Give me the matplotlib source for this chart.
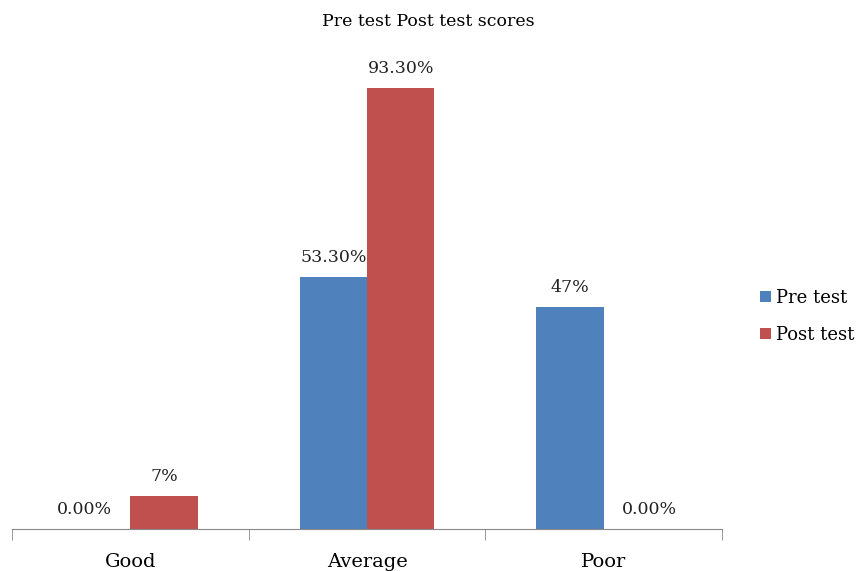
import numpy as np
import matplotlib.pyplot as plt

categorias = ['Good', 'Average', 'Poor']
pre_test = [0.0, 53.3, 47.0]
post_test = [7.0, 93.3, 0.0]
rotulos_pre = ['0.00%', '53.30%', '47%']
rotulos_post = ['7%', '93.30%', '0.00%']

plt.rcParams['font.family'] = ['DejaVu Serif']

fig = plt.figure(figsize=(8.57, 5.71), dpi=100)
ax = fig.add_axes([12/857, 42/571, 710/857, 473/571])

x = np.arange(len(categorias))
w = 0.285
b1 = ax.bar(x - w/2, pre_test, w, color='#4F81BD', label='Pre test')
b2 = ax.bar(x + w/2, post_test, w, color='#C0504D', label='Post test')

# rotulos de dados (valores zero ficam um pouco deslocados para fora)
for barras, rot, lado in ((b1, rotulos_pre, -1), (b2, rotulos_post, 1)):
    for b, t in zip(barras, rot):
        dx = 9 * lado if b.get_height() == 0 else 0
        ax.annotate(t, (b.get_x() + b.get_width()/2, b.get_height()),
                    xytext=(dx, 8), textcoords='offset points',
                    ha='center', va='bottom', fontsize=12.5, color='#222222')

ax.set_xlim(-0.5, 2.5)
ax.set_ylim(0, 100)
ax.set_yticks([])
for s in ['top', 'right', 'left']:
    ax.spines[s].set_visible(False)
ax.spines['bottom'].set_color('#888888')

ax.set_xticks(x)
ax.set_xticklabels(categorias, fontsize=14)
ax.tick_params(axis='x', which='major', length=0, pad=17)
ax.set_xticks([-0.5, 0.5, 1.5, 2.5], minor=True)
ax.tick_params(axis='x', which='minor', length=8, color='#888888')

fig.suptitle('Pre test Post test scores', y=0.978, fontsize=12.5)

fig.legend(loc='center left', bbox_to_anchor=(0.868, 0.446), frameon=False,
           fontsize=13, handlelength=0.6, handleheight=0.6, handletextpad=0.3,
           labelspacing=1.05)

plt.savefig('out.png', dpi=100)
